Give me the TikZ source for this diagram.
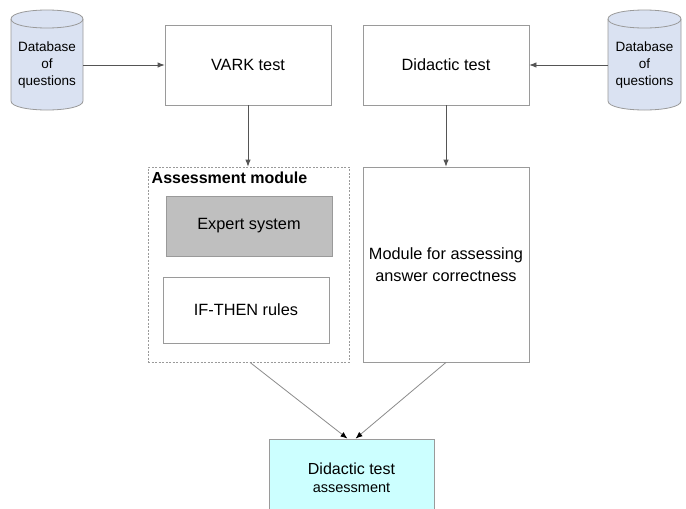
\documentclass[tikz,border=0pt]{standalone}
\usepackage{fontspec}
\setmainfont{Liberation Sans}
\usetikzlibrary{arrows.meta}
\definecolor{boxline}{HTML}{9A9A9A}
\definecolor{dbfill}{HTML}{DAE2F2}
\definecolor{esfill}{HTML}{BFBFBF}
\definecolor{cyanfill}{HTML}{CCFFFF}
\definecolor{arrline}{HTML}{555555}
\definecolor{diagline}{HTML}{8C8C8C}
\tikzset{
  box/.style={draw=boxline, line width=0.8pt, rectangle, minimum width=166pt, inner sep=0pt, align=center, font=\fontsize{16.3}{19}\selectfont},
  dbtext/.style={inner sep=0pt, minimum width=72pt, align=center, font=\fontsize{13.5}{16.8}\selectfont},
  dbshape/.style={draw=boxline, line width=0.8pt, fill=dbfill},
  arr/.style={draw=arrline, line width=0.8pt, -{Latex[length=7pt,width=5.5pt]}},
  darr/.style={draw=diagline, line width=0.8pt, -{Latex[length=7pt,width=5.5pt,color=black]}}
}
\begin{document}
\begin{tikzpicture}[x=1pt,y=-1pt]
\clip (0,0) rectangle (686,509);
\fill[white] (0,0) rectangle (686,509);
% cylinders
\foreach \L/\R in {11/83, 608/681}{
  \path[dbshape] (\L,19) .. controls (\L,7) and (\R,7) .. (\R,19) -- (\R,101)
     .. controls (\R,113) and (\L,113) .. (\L,101) -- cycle;
  \draw[draw=boxline, line width=0.8pt] (\L,19) .. controls (\L,31) and (\R,31) .. (\R,19);
}
\node[dbtext] (db1) at (47,65) {Database\\of\\questions};
\node[dbtext] (db2) at (644.5,65) {Database\\of\\questions};
% top boxes
\node[box, minimum height=80pt] (vark) at (248,65) {VARK test};
\node[box, minimum height=80pt] (did) at (446,65) {Didactic test};
% assessment module
\node[draw=boxline, line width=0.8pt, dashed, dash pattern=on 2pt off 1.5pt, minimum width=201pt, minimum height=195pt, inner sep=0pt] (am) at (248.5,264.5) {};
\node[anchor=north west, inner sep=0pt, font=\fontsize{16}{19}\selectfont\bfseries] (amt) at (151.5,171.5) {Assessment module};
\node[box, fill=esfill, minimum height=60pt] (es) at (249,226) {Expert system};
\node[box, minimum height=66pt] (ift) at (246,310) {IF-THEN rules};
% module
\node[box, minimum height=195pt, font=\fontsize{16.3}{22}\selectfont] (mod) at (446,264.5) {Module for assessing\\answer correctness};
% final
\node[box, fill=cyanfill, minimum width=165pt, minimum height=77pt, font=\fontsize{16}{19}\selectfont] (fin) at (351.5,477.5) {Didactic test\\[-1pt]{\fontsize{14.5}{17}\selectfont assessment}};
% connectors
\draw[arr] (db1.east) -- (vark.west);
\draw[arr] (db2.west) -- (did.east);
\draw[arr] (vark.south) -- (vark.south |- am.north);
\draw[arr] (did.south) -- (mod.north);
\draw[darr] ([xshift=1.5pt]am.south) -- ([xshift=-4pt]fin.north);
\draw[darr] (mod.south) -- ([xshift=4pt]fin.north);
\end{tikzpicture}
\end{document}
